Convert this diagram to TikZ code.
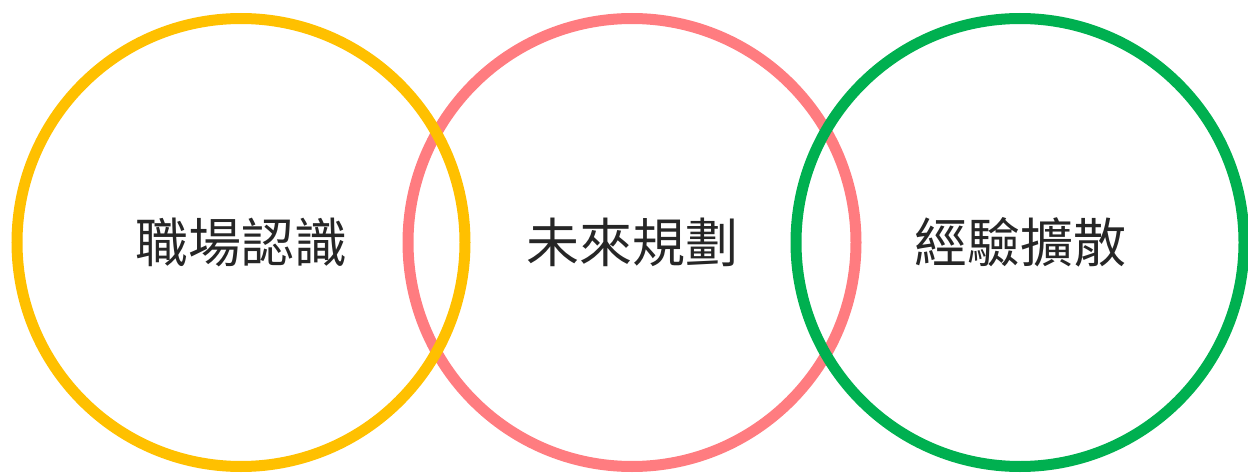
\documentclass[tikz,border=0pt]{standalone}
\usepackage{fontspec}
\newfontfamily\cjk{Noto Sans CJK TC}
\definecolor{ringyellow}{HTML}{FFC000}
\definecolor{ringpink}{HTML}{FF7C80}
\definecolor{ringgreen}{HTML}{00B050}
\tikzset{
  ring/.style={circle, draw=#1, line width=11pt, minimum size=448pt, inner sep=0pt,
    font=\cjk\fontsize{53}{53}\selectfont, text=black!85}
}
\begin{document}
\begin{tikzpicture}[x=1pt, y=1pt]
    \useasboundingbox (0,0) rectangle (1248,475);
    \node[ring=ringpink] (future) at (632,232.5) {未來規劃};
    \node[ring=ringyellow] (career) at (241,232.5) {職場認識};
    \node[ring=ringgreen] (share) at (1020,232.5) {經驗擴散};
\end{tikzpicture}
\end{document}
